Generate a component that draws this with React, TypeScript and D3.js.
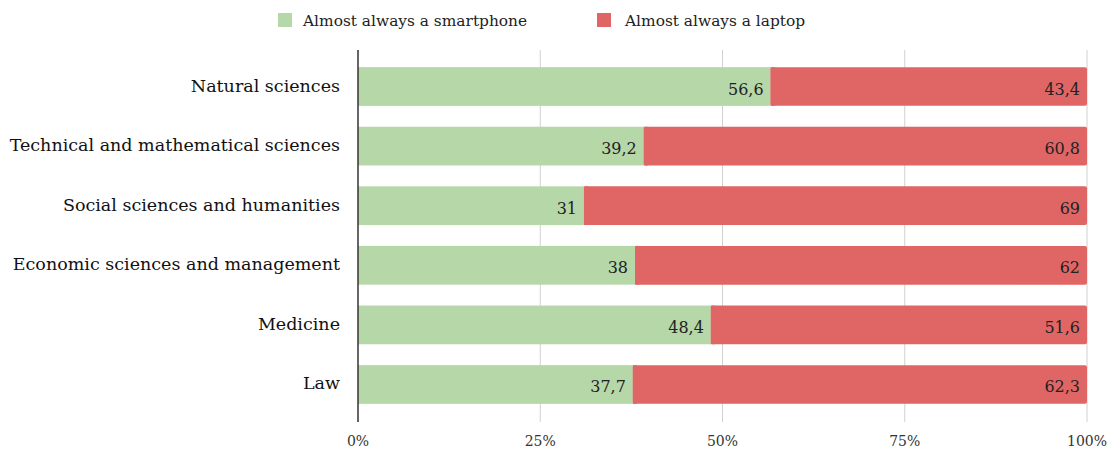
import React from "react";
import * as d3 from "d3";

const categories = [
  "Natural sciences",
  "Technical and mathematical sciences",
  "Social sciences and humanities",
  "Economic sciences and management",
  "Medicine",
  "Law",
];
const smartphone = [56.6, 39.2, 31, 38, 48.4, 37.7];
const laptop = [43.4, 60.8, 69, 62, 51.6, 62.3];
const seriesNames = ["Almost always a smartphone", "Almost always a laptop"];
const tickValues = [0, 25, 50, 75, 100];

const GREEN = "#b6d7a8";
const RED = "#e06666";
const FONT = "'DejaVu Serif', Georgia, serif";

const fmt = (v: number) => String(v).replace(".", ",");

export default function App() {
  const W = 1112;
  const H = 452;
  const x = d3.scaleLinear().domain([0, 100]).range([358, 1087]);
  const y = d3
    .scaleBand<string>()
    .domain(categories)
    .range([57, 414])
    .paddingInner(0.35)
    .paddingOuter(0.17);
  const bh = y.bandwidth();

  return (
    <svg
      width={W}
      height={H}
      style={{ position: "absolute", left: 0, top: 0, background: "#fff" }}
      fontFamily={FONT}
    >
      {/* legend */}
      <g>
        <rect x={278} y={13} width={14} height={14} fill={GREEN} />
        <text x={303} y={26} fontSize={15.4} fill="#222">
          {seriesNames[0]}
        </text>
        <rect x={597} y={13} width={14} height={14} fill={RED} />
        <text x={625} y={26} fontSize={15.4} fill="#222">
          {seriesNames[1]}
        </text>
      </g>
      {/* gridlines */}
      {tickValues.slice(1).map((t) => (
        <line
          key={t}
          x1={x(t)}
          x2={x(t)}
          y1={50}
          y2={422}
          stroke="#d0d0d0"
          strokeWidth={1}
        />
      ))}
      {/* bars */}
      {categories.map((c, i) => {
        const y0 = y(c)!;
        const s = smartphone[i];
        const l = laptop[i];
        const cy = y0 + bh / 2;
        return (
          <g key={c}>
            <rect x={x(0)} y={y0} width={x(s) - x(0)} height={bh} fill={GREEN} />
            <rect
              x={x(s)}
              y={y0}
              width={x(s + l) - x(s)}
              height={bh}
              fill={RED}
              rx={2}
            />
            <rect x={x(s)} y={y0} width={4} height={bh} fill={RED} />
            <text
              x={x(s) - 7}
              y={cy + 8}
              textAnchor="end"
              fontSize={16}
              fill="#222"
            >
              {fmt(s)}
            </text>
            <text
              x={x(s + l) - 7}
              y={cy + 8}
              textAnchor="end"
              fontSize={16}
              fill="#222"
            >
              {fmt(l)}
            </text>
            <text
              x={340}
              y={cy + 5}
              textAnchor="end"
              fontSize={17.5}
              fill="#111"
            >
              {c}
            </text>
          </g>
        );
      })}
      {/* axis line */}
      <line x1={x(0)} x2={x(0)} y1={50} y2={422} stroke="#333" strokeWidth={1.5} />
      {/* tick labels */}
      {tickValues.map((t) => (
        <text
          key={t}
          x={x(t)}
          y={446}
          textAnchor="middle"
          fontSize={14}
          fill="#333"
        >
          {t}%
        </text>
      ))}
    </svg>
  );
}
